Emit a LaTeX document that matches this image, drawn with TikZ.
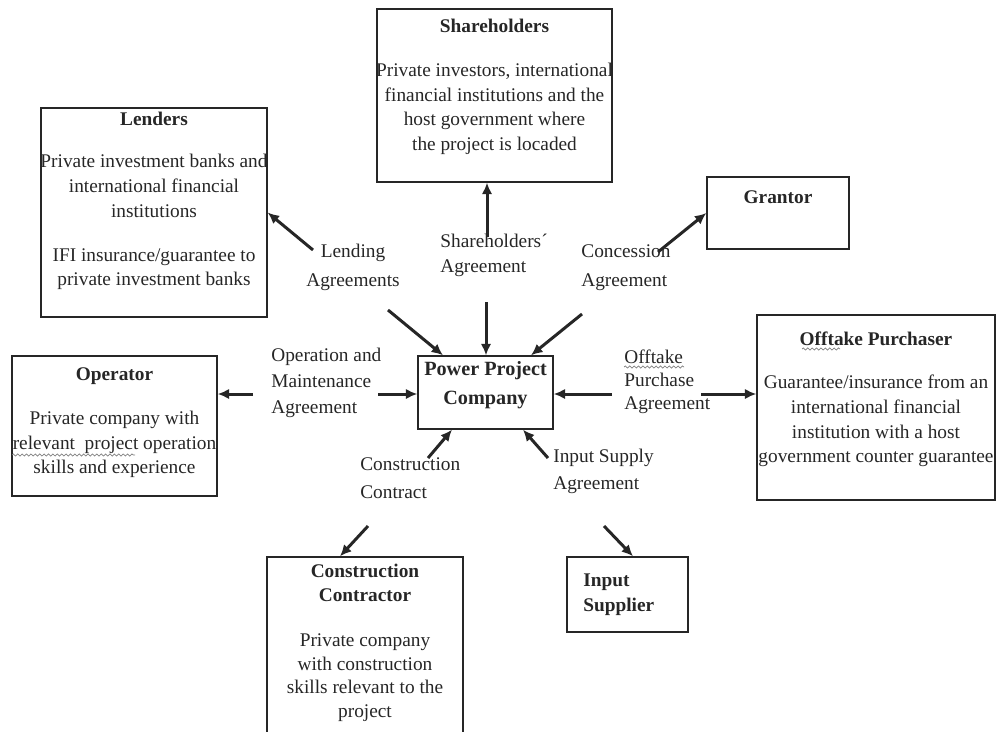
\documentclass[tikz,border=0pt]{standalone}
\usepackage{fontspec}
\setmainfont{Liberation Serif}
\usetikzlibrary{arrows.meta,fit,decorations.pathmorphing}
\colorlet{ink}{black!85}
\tikzset{
  partybox/.style={draw=ink, line width=0.8pt, inner sep=0pt},
  boxtxt/.style={text=ink, align=center, inner sep=0pt, font=\fontsize{11}{14}\selectfont},
  lbl/.style={text=ink, align=left, inner sep=0pt, font=\fontsize{11}{#1}\selectfont},
  lbl/.default=15pt,
  link/.style={draw=ink, line width=1.7pt, -{Latex[length=6.5pt,width=6pt]}},
  spellwave/.style={draw=gray, line width=0.4pt, decorate, decoration={snake, amplitude=0.6pt, segment length=2.5pt}}
}
\begin{document}
\begin{tikzpicture}[x=0.02cm, y=-0.02cm]
\useasboundingbox (0,0) rectangle (997,731);
\clip (0,0) rectangle (997,731);
% parties
\node[partybox, fit={(377,9) (612,182)}] (shareholders) {};
\node[partybox, fit={(41,108) (267,317)}] (lenders) {};
\node[partybox, fit={(707,177) (849,249)}] (grantor) {};
\node[partybox, fit={(12,356) (217,496)}] (operator) {};
\node[partybox, fit={(757,315) (995,500)}] (offtake) {};
\node[partybox, fit={(418,356) (553,429)}] (ppc) {};
\node[partybox, fit={(267,557) (463,760)}] (contractor) {};
\node[partybox, fit={(567,557) (688,632)}] (supplier) {};
% box texts
\node[boxtxt] (sharestxt) at (494.5,87) {\textbf{Shareholders}\\[11pt] Private investors, international\\ financial institutions and the\\ host government where\\ the project is locaded};
\node[boxtxt] (lendtxt) at (154,201) {\textbf{Lenders}\\[10pt] Private investment banks and\\ international financial\\ institutions\\[11pt] IFI insurance/guarantee to\\ private investment banks};
\node[boxtxt] (granttxt) at (778,197) {\textbf{Grantor}};
\node[boxtxt] (optxt) at (114.5,423) {\textbf{Operator}\\[11pt] Private company with\\ relevant\ \ project operation\\ skills and experience};
\node[boxtxt] (offtxt) at (876,399.5) {\textbf{Offtake Purchaser}\\[10.5pt] Guarantee/insurance from an\\ international financial\\ institution with a host\\ government counter guarantee};
\node[boxtxt, font=\fontsize{11.5}{16.4}\selectfont\bfseries] (ppctxt) at (485.5,385.5) {Power Project\\ Company};
\node[boxtxt, font=\fontsize{11}{13.5}\selectfont] (contxt) at (365,643) {\textbf{Construction}\\ \textbf{Contractor}\\[12pt] Private company\\ with construction\\ skills relevant to the\\ project};
\node[boxtxt, align=left, anchor=west] (suptxt) at (583,595) {\textbf{Input}\\ \textbf{Supplier}};
% agreement labels
\node[lbl=16.4pt, align=center] (lendlbl) at (353,267.5) {Lending\\ Agreements};
\node[lbl=14.2pt, anchor=west] (sharelbl) at (440,255.5) {Shareholders´\\ Agreement};
\node[lbl=16.4pt, anchor=west] (conclbl) at (581,267.5) {Concession\\ Agreement};
\node[lbl=14.7pt, anchor=west] (omlbl) at (271,383) {Operation and\\ Maintenance\\ Agreement};
\node[lbl=13pt, anchor=west] (offlbl) at (624,382) {Offtake\\ Purchase\\ Agreement};
\node[lbl=15.9pt, anchor=west] (conslbl) at (360,478) {Construction\\ Contract};
\node[lbl=15.3pt, anchor=west] (inplbl) at (553,471) {Input Supply\\ Agreement};
% spelling marks
\draw[spellwave] (624,367) -- (684,367);
\draw[spellwave] (802,349) -- (840,349);
\draw[spellwave] (12,455) -- (135,455);
% arrows
\coordinate (lendfrom) at (313,250);
\coordinate (sharefrom) at (487,237);
\coordinate (concfrom) at (658,252);
\coordinate (ppcnw) at (388,310);
\coordinate (ppcn) at (486,302);
\coordinate (ppcne) at (582,314);
\coordinate (omfrom) at (378,394);
\coordinate (omto) at (253,394);
\coordinate (offfrom) at (612,394);
\coordinate (offto) at (701,394);
\coordinate (consfrom) at (428,458);
\coordinate (inpfrom) at (548,458);
\coordinate (consto) at (368,526);
\coordinate (inpto) at (604,526);
\draw[link] (lendfrom) -- (lenders.east);
\draw[link] (sharefrom) -- (sharefrom |- shareholders.south);
\draw[link] (concfrom) -- (grantor.west);
\draw[link] (ppcnw) -- (443,0 |- ppc.north);
\draw[link] (ppcn) -- (ppcn |- ppc.north);
\draw[link] (ppcne) -- (531,0 |- ppc.north);
\draw[link] (omfrom) -- (omfrom -| ppc.west);
\draw[link] (omto) -- (omto -| operator.east);
\draw[link] (offfrom) -- (offfrom -| ppc.east);
\draw[link] (offto) -- (offto -| offtake.west);
\draw[link] (consfrom) -- (452,0 |- ppc.south);
\draw[link] (inpfrom) -- (523,0 |- ppc.south);
\draw[link] (consto) -- (340,0 |- contractor.north);
\draw[link] (inpto) -- (633,0 |- supplier.north);
\end{tikzpicture}
\end{document}
